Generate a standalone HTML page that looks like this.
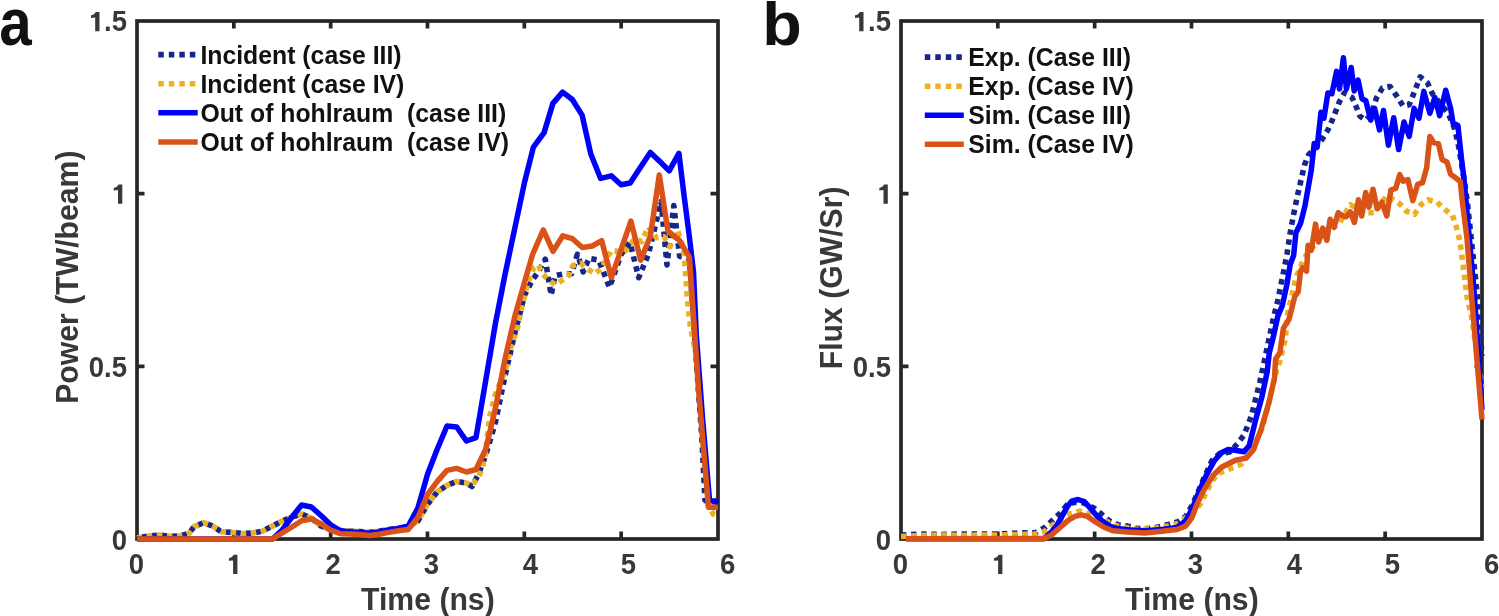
<!DOCTYPE html>
<html><head><meta charset="utf-8"><title>Figure</title>
<style>
html,body{margin:0;padding:0;background:#fff;}
body{width:1499px;height:616px;overflow:hidden;}
svg{display:block;will-change:transform;}
text{font-family:"Liberation Sans",sans-serif;font-weight:bold;}
.tk{font-size:27.5px;fill:#383838;}
.lb{font-size:30.2px;fill:#383838;}
.lg{font-size:24.8px;fill:#111;}
.pl{font-size:63px;fill:#111;}
</style></head>
<body>
<svg width="1499" height="616" viewBox="0 0 1499 616">
<rect width="1499" height="616" fill="#fff"/>
<rect x="137" y="21" width="581" height="518" fill="none" stroke="#262626" stroke-width="3.7" stroke-linejoin="miter"/>
<path d="M233.83,539v-7.5M233.83,21v7.5M330.66,539v-7.5M330.66,21v7.5M427.49,539v-7.5M427.49,21v7.5M524.32,539v-7.5M524.32,21v7.5M621.15,539v-7.5M621.15,21v7.5M137,366.34h7.5M718,366.34h-7.5M137,193.67h7.5M718,193.67h-7.5" stroke="#262626" stroke-width="3.7" fill="none"/>
<rect x="901" y="21" width="581" height="518" fill="none" stroke="#262626" stroke-width="3.7" stroke-linejoin="miter"/>
<path d="M997.83,539v-7.5M997.83,21v7.5M1094.66,539v-7.5M1094.66,21v7.5M1191.49,539v-7.5M1191.49,21v7.5M1288.32,539v-7.5M1288.32,21v7.5M1385.15,539v-7.5M1385.15,21v7.5M901,366.34h7.5M1482,366.34h-7.5M901,193.67h7.5M1482,193.67h-7.5" stroke="#262626" stroke-width="3.7" fill="none"/>
<text transform="translate(136.50,574.40) scale(1,1.04)" text-anchor="middle" class="tk">0</text>
<path transform="translate(237.40,574.10)" fill="#383838" d="M0,0H-4.3V-13.7L-8.5,-13.3V-15.9C-6.6,-16.1 -5.1,-17.1 -3.7,-19.3H0Z"/>
<text transform="translate(333.10,574.40) scale(1,1.04)" text-anchor="middle" class="tk">2</text>
<text transform="translate(431.50,574.40) scale(1,1.04)" text-anchor="middle" class="tk">3</text>
<text transform="translate(530.50,574.40) scale(1,1.04)" text-anchor="middle" class="tk">4</text>
<text transform="translate(628.50,574.40) scale(1,1.04)" text-anchor="middle" class="tk">5</text>
<text transform="translate(727.70,574.40) scale(1,1.04)" text-anchor="middle" class="tk">6</text>
<text transform="translate(127.00,549.60) scale(1,1.04)" text-anchor="end" class="tk">0</text>
<text transform="translate(127.00,376.50) scale(1,1.04)" text-anchor="end" class="tk">0.5</text>
<path transform="translate(122.30,203.80)" fill="#383838" d="M0,0H-4.3V-13.7L-8.5,-13.3V-15.9C-6.6,-16.1 -5.1,-17.1 -3.7,-19.3H0Z"/>
<path transform="translate(99.50,31.20)" fill="#383838" d="M0,0H-4.3V-13.7L-8.5,-13.3V-15.9C-6.6,-16.1 -5.1,-17.1 -3.7,-19.3H0Z"/>
<text transform="translate(127.00,31.20) scale(1,1.04)" text-anchor="end" class="tk">.5</text>
<text transform="translate(900.50,574.40) scale(1,1.04)" text-anchor="middle" class="tk">0</text>
<path transform="translate(1002.40,574.10)" fill="#383838" d="M0,0H-4.3V-13.7L-8.5,-13.3V-15.9C-6.6,-16.1 -5.1,-17.1 -3.7,-19.3H0Z"/>
<text transform="translate(1098.10,574.40) scale(1,1.04)" text-anchor="middle" class="tk">2</text>
<text transform="translate(1195.50,574.40) scale(1,1.04)" text-anchor="middle" class="tk">3</text>
<text transform="translate(1294.50,574.40) scale(1,1.04)" text-anchor="middle" class="tk">4</text>
<text transform="translate(1392.50,574.40) scale(1,1.04)" text-anchor="middle" class="tk">5</text>
<text transform="translate(1491.70,574.40) scale(1,1.04)" text-anchor="middle" class="tk">6</text>
<text transform="translate(891.00,549.60) scale(1,1.04)" text-anchor="end" class="tk">0</text>
<text transform="translate(891.00,376.50) scale(1,1.04)" text-anchor="end" class="tk">0.5</text>
<path transform="translate(887.80,203.80)" fill="#383838" d="M0,0H-4.3V-13.7L-8.5,-13.3V-15.9C-6.6,-16.1 -5.1,-17.1 -3.7,-19.3H0Z"/>
<path transform="translate(863.50,31.20)" fill="#383838" d="M0,0H-4.3V-13.7L-8.5,-13.3V-15.9C-6.6,-16.1 -5.1,-17.1 -3.7,-19.3H0Z"/>
<text transform="translate(891.00,31.20) scale(1,1.04)" text-anchor="end" class="tk">.5</text>
<polyline points="137,538 149,536 159.3,535 169.7,536.3 180,536 189,533.5 194,526.7 203.7,522.7 213.3,526.3 221,531.7 232.3,532.5 243,533.5 253,533 262.9,531 272.6,526 282.2,521 291.9,517 301.6,514 311.3,518 321,526 330.7,530 340.4,530.5 350,531.2 359.7,531.6 369.4,532.3 379,531.2 388.8,529.5 398.5,528.2 408.2,527 417.9,521 427.6,504.2 437.3,491.8 447,485.3 456.7,481.4 466.4,483 472,486.5 478.6,474 485.8,455 495.5,422 505.2,375 514.9,333 524.6,295 532.6,279.6 538.4,271.8 545.3,259.2 551.1,295.2 555,275.7 563.8,273.8 571.6,273.8 577.4,254.3 583.2,271.8 589.1,258.2 598.8,260.1 609.5,287.4 621.2,254.3 630,242.6 638.7,277.7 648.4,254.3 661.1,201.7 667,265 673.8,205.6 679.6,256.2 689.4,259 698.8,396 702,440 703.5,470 705,500 708.5,503 718,500" fill="none" stroke="#15268c" stroke-width="5.6" stroke-linejoin="round" stroke-linecap="butt" stroke-dasharray="5.4 4.7" stroke-dashoffset="5.4"/>
<polyline points="137,538 149,536 159.3,535 169.7,536.3 180,536 189,533.5 194,526.7 203.7,522.7 213.3,526.3 221,531.7 232.3,532.5 243,533.5 253,533 262.9,531 272.6,526 282.2,521 291.9,517 301.6,514 311.3,518 321,526 330.7,530 340.4,530.5 350,531.2 359.7,531.6 369.4,532.3 379,531.2 388.8,529.5 398.5,528.2 408.2,527 417.9,521 427.6,504.2 437.3,491.8 447,485.3 456.7,481.4 466.4,483 472,485.5 478.4,477 482.3,468 485.6,452 489.5,417 495.5,394 505.7,369.5 510.8,347.5 517.4,328 521.9,306.9 527.7,283.5 533.6,267.9 538.4,265 542.3,273.8 548.2,279.6 555,284.5 561.8,280.6 568.6,275.7 572.5,266 580.3,263 587.1,268.9 594.9,273.8 601.7,268 611.4,250.4 624.1,252.3 634.8,238.7 641.6,241.6 648.4,227 656.2,237.7 664,236.8 669.9,246.5 677.7,230.9 683.5,248.4 685.5,271.8 687.4,299.1 690.3,326 696.2,355 698.8,392 708.5,507 713.6,514.3 718,516" fill="none" stroke="#edb120" stroke-width="5.6" stroke-linejoin="round" stroke-linecap="butt" stroke-dasharray="5.4 4.7" stroke-dashoffset="0"/>
<polyline points="137,539 272.6,539 282.2,530 291.9,517 301.6,505 311.3,507 321,515.5 330.7,524.8 340.4,530.8 350,532 359.7,532.5 369.4,533.3 379,532 388.8,530 398.5,528.5 408.2,526 417.9,508 427.6,474 437.3,449 447,426 456.7,427 466.4,441 476,437.6 485.8,380 495.5,323 505.2,273.6 514.9,227.8 524.6,182 533.4,147.2 544.1,132.6 552.9,103.4 562.6,92.1 572.3,99.5 582.1,115.1 590.8,154 600.6,178.4 611.3,175.8 621,184.8 630.2,183 640,168 650.3,152.4 660.4,162.1 669.2,170.9 678.9,153.4 684,195 689.5,238 693.5,272 696.3,335 702.7,420 709.5,500 718,503" fill="none" stroke="#0000ff" stroke-width="5.5" stroke-linejoin="round" stroke-linecap="butt"/>
<polyline points="137,539 272.6,539 282.2,533 291.9,527 301.6,520.8 311.3,519 321,523.7 330.7,530.2 340.4,533.75 350,533.9 359.7,534.4 369.4,535.5 379,534.2 388.8,532.4 398.5,530.8 408.2,529.5 417.9,517.5 427.6,494.4 437.3,481.4 447,470.4 456.7,468.4 466.4,472 476,469.5 485.8,449 495.5,408 505.2,358 514.9,316 524.6,282 532.6,254.3 543.3,229.9 553,251.4 562.8,235.8 572.5,238.7 582.3,247.5 592.3,246 601.7,240.7 611.4,277.7 630.9,221.2 640.7,260.1 650.4,236 659.3,175 667.9,230.9 679.6,240.7 689.4,257.2 698.8,392 708.5,507.2 718,507.2" fill="none" stroke="#d95319" stroke-width="5.5" stroke-linejoin="round" stroke-linecap="butt"/>
<polyline points="901,535 920,534 940,534.5 960,534 980,534 1000,534 1025.8,532.7 1035.8,532.7 1044.8,527.5 1052.2,520.6 1059.6,513.8 1067,505 1074.9,502.2 1084,503 1093.8,508 1101.8,514.3 1109.7,521.1 1118.1,524.8 1127.6,526.1 1137.8,528.6 1148,528.6 1158.3,527 1168.5,524.4 1177.9,521.8 1185.6,516.7 1192.4,504.8 1199.2,489.4 1203.5,479.2 1207.7,469.8 1212,460.5 1219.6,453.6 1229.9,451.9 1237.7,443.4 1244,435 1248.2,424.4 1251.4,416 1255.6,399 1259.8,382.2 1263,367.4 1266.1,352.7 1273.2,319 1277.7,301 1282.3,278.2 1286.8,255.5 1290.2,232.7 1293.6,214.5 1297.6,194.9 1304.5,165 1308.4,155.2 1322,139.6 1327.9,129.9 1331.8,121.1 1335.7,111.4 1339.5,101.6 1344.4,92.9 1352.2,97.7 1356.1,106.5 1360,116.2 1366,120 1370.7,115 1376.6,97.7 1382.4,88 1390,86.5 1397,96.3 1403.1,106 1409.2,104.8 1414.1,92.6 1420.2,76.8 1427.5,82.9 1432.4,93.8 1448.2,113.3 1454.3,127.9 1457.9,142.5 1463,172 1467,199.5 1477.5,296.9 1482,356" fill="none" stroke="#15268c" stroke-width="5.6" stroke-linejoin="round" stroke-linecap="butt" stroke-dasharray="5.4 4.7" stroke-dashoffset="0"/>
<polyline points="901,536.5 920,535.5 940,535 960,535.5 980,535 1000,535 1024.7,534.3 1034.8,534.3 1044.3,531.7 1052.2,525.4 1060.1,520 1069.6,513.8 1079.6,511.1 1088.6,514 1098,518.5 1108.6,522.2 1117.4,526.1 1127.6,527.8 1137.8,529.5 1148,528.6 1158.3,527.8 1168.5,526.1 1177.9,523.5 1184.7,518.4 1194.1,511.6 1200.9,503.1 1206,492.8 1211.1,482.6 1217.1,474.1 1223,471.5 1231.6,468.1 1240.8,464.5 1252,450 1262,428.6 1267.2,409.6 1276.7,369.5 1279.9,361.1 1285.1,340 1288,312 1296,277.7 1304.1,258.2 1320,238 1339.8,222.5 1350.3,204.6 1365.7,212.8 1374.6,212.8 1386.8,195.7 1399.8,203.8 1406.3,211.1 1414.4,214.4 1420.9,204.6 1428.2,199.8 1437.1,202.2 1444.6,209.2 1452.4,215.1 1456.3,226.8 1459.2,238.4 1461.2,250.1 1463.1,265.7 1465.1,281.3 1467,296.9 1471.8,318 1482,388" fill="none" stroke="#edb120" stroke-width="5.6" stroke-linejoin="round" stroke-linecap="butt" stroke-dasharray="5.4 4.7" stroke-dashoffset="0"/>
<polyline points="906,538.7 1044,538.7 1051.6,531.7 1056.9,525.4 1062.2,515.9 1067.5,506.4 1071.7,501.1 1078,499.5 1084.3,501.6 1089.6,507.4 1095.9,514.8 1102.3,521.1 1109.7,526 1117,528.5 1127.6,529.8 1144.7,530.8 1161.7,529.5 1177,527.5 1185.6,521 1192.4,508.2 1199.2,491.1 1206,475.8 1214.5,460.5 1221.4,452.8 1228.2,449.4 1235,450.2 1244,451.8 1249.3,445.5 1255.6,420.2 1261.9,397 1267.2,371.6 1269.3,352.7 1273.2,337.3 1277.7,316.8 1282.3,305.5 1286.8,285 1290.2,264.5 1293.6,255.5 1295.9,232.7 1300.5,223.6 1304.9,206.2 1311.3,170 1314.2,143.5 1317.1,147.4 1321,112.3 1324,118.2 1327.9,92.9 1331.8,93.8 1336.6,71.4 1339.5,89 1343.4,57.8 1346.4,89 1351.2,67.5 1354.2,90.9 1358.1,80.2 1362,98.7 1365.8,100.7 1370.7,120.1 1374.6,108.4 1379.5,129.9 1383.5,110.5 1388.4,145.2 1393.7,117.7 1398.6,149.6 1404,122 1409.2,136.4 1414.1,108.4 1419,118.2 1423.8,91.4 1429.9,113.3 1434.8,97.5 1439.7,115.7 1445.7,90.2 1450.6,108.4 1453,123 1457.9,125.5 1461.6,159.6 1464.1,180 1474,290 1482,410" fill="none" stroke="#0000ff" stroke-width="5.5" stroke-linejoin="round" stroke-linecap="butt"/>
<polyline points="906,538.7 1044.3,538.5 1051.6,534.9 1060.1,527.5 1068.5,520.1 1074.9,516.4 1081.2,514.8 1087.5,516.4 1095.9,522.2 1104.4,527.5 1112.8,530.8 1127.6,532 1144.7,532.9 1161.7,531.2 1177,529.5 1185.6,526.1 1191.5,518.4 1197.5,503.1 1204.3,489.4 1212.8,475.8 1221.4,467.3 1229.9,463 1235.5,460.3 1246.1,458.1 1253.5,449.7 1261.3,428.6 1268.7,403.3 1274.5,378 1275.6,359 1279.9,352.7 1283.4,328.2 1289.1,319 1294.8,296.4 1298.2,291.8 1300.5,271.4 1302.5,267.9 1306.5,271.2 1308.1,245.2 1311.4,250.1 1315.5,224.1 1318.7,242 1322.8,228.1 1326.8,240.3 1330.1,219.2 1334.1,227.3 1338.2,212.7 1341.4,215.2 1346.2,216.8 1350.3,211.9 1354.4,222.5 1358.4,199.8 1361.7,216 1365.7,192.5 1369,207.1 1373,189.2 1377.1,208.7 1381.9,202.2 1386.8,216 1390.9,190 1395.7,188.4 1399.8,174.6 1403,181.1 1407.9,179.5 1412.8,200.6 1417.7,184.4 1422.5,182.7 1426.6,168.1 1429.9,136.4 1433.6,142.5 1438.4,143.7 1442.1,159.6 1447,162 1450.6,174.2 1455.5,177.8 1460.3,181.5 1462.1,199.5 1467,238.4 1471.9,300 1482,419.5" fill="none" stroke="#d95319" stroke-width="5.5" stroke-linejoin="round" stroke-linecap="butt"/>
<line x1="158.3" y1="54.6" x2="197.7" y2="54.6" stroke="#15268c" stroke-width="5.6" stroke-dasharray="5.5 5"/>
<text transform="translate(200.40,63.70) scale(1,1.04)" class="lg">Incident (case III)</text>
<line x1="158.3" y1="83.8" x2="197.7" y2="83.8" stroke="#edb120" stroke-width="5.6" stroke-dasharray="5.5 5"/>
<text transform="translate(200.40,92.90) scale(1,1.04)" class="lg">Incident (case IV)</text>
<line x1="158.3" y1="112.8" x2="197.7" y2="112.8" stroke="#0000ff" stroke-width="5.5"/>
<text transform="translate(200.40,121.90) scale(1,1.04)" class="lg">Out of hohlraum&#160;&#160;(case III)</text>
<line x1="158.3" y1="142.0" x2="197.7" y2="142.0" stroke="#d95319" stroke-width="5.5"/>
<text transform="translate(200.40,151.10) scale(1,1.04)" class="lg">Out of hohlraum&#160;&#160;(case IV)</text>
<line x1="924.8" y1="57.1" x2="963.8" y2="57.1" stroke="#15268c" stroke-width="5.6" stroke-dasharray="5.5 5"/>
<text transform="translate(968.30,66.20) scale(1,1.04)" class="lg">Exp. (Case III)</text>
<line x1="924.8" y1="86.2" x2="963.8" y2="86.2" stroke="#edb120" stroke-width="5.6" stroke-dasharray="5.5 5"/>
<text transform="translate(968.30,95.30) scale(1,1.04)" class="lg">Exp. (Case IV)</text>
<line x1="924.8" y1="115.3" x2="963.8" y2="115.3" stroke="#0000ff" stroke-width="5.5"/>
<text transform="translate(968.30,124.40) scale(1,1.04)" class="lg">Sim. (Case III)</text>
<line x1="924.8" y1="144.2" x2="963.8" y2="144.2" stroke="#d95319" stroke-width="5.5"/>
<text transform="translate(968.30,153.30) scale(1,1.04)" class="lg">Sim. (Case IV)</text>
<text transform="translate(427.90,610.40) scale(1,1.04)" text-anchor="middle" class="lb">Time (ns)</text>
<text transform="translate(1191.90,610.40) scale(1,1.04)" text-anchor="middle" class="lb">Time (ns)</text>
<text transform="translate(78.20,277.20) rotate(-90) scale(1,1.04)" text-anchor="middle" class="lb">Power (TW/beam)</text>
<text transform="translate(842.00,277.90) rotate(-90) scale(1,1.04)" text-anchor="middle" class="lb">Flux (GW/Sr)</text>
<text transform="translate(-0.7,44.8) scale(0.871,1)" style="font-size:67px" class="pl">a</text>
<text transform="translate(762.3,44.7) scale(1.06,1)" style="font-size:61px" class="pl">b</text>
</svg>
</body></html>
